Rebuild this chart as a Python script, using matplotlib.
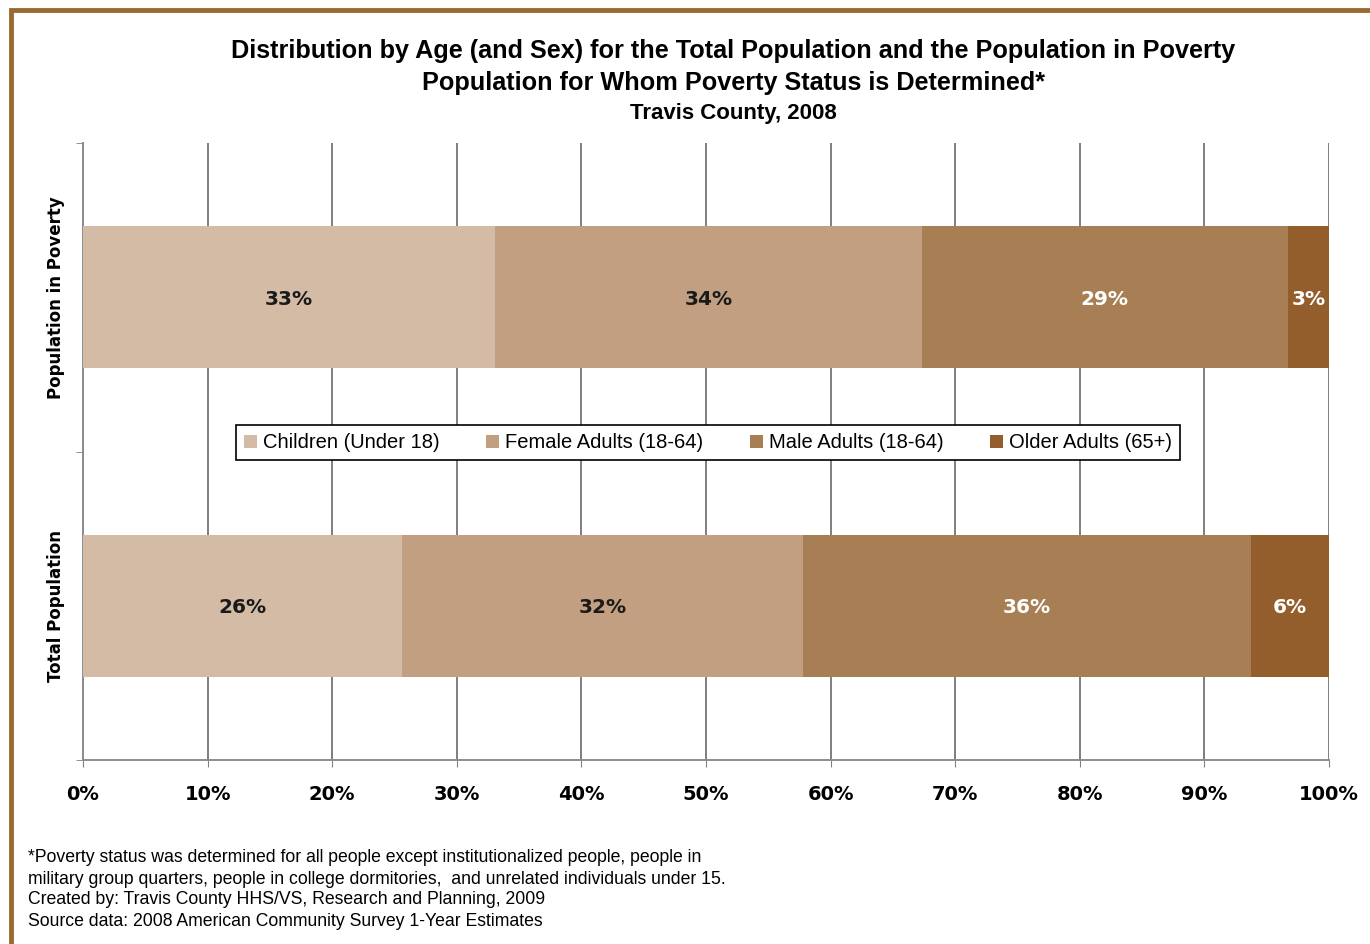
import matplotlib.pyplot as plt
import matplotlib.patches as mpatches
from matplotlib.ticker import FixedLocator, PercentFormatter

# datos (porcentajes)
grupos = ["Total Population", "Population in Poverty"]
series = ["Children (Under 18)", "Female Adults (18-64)", "Male Adults (18-64)", "Older Adults (65+)"]
children = [25.6, 33.1]
female = [32.2, 34.2]
male = [35.9, 29.4]
older = [6.3, 3.3]
colores = ["#D4BBA6", "#C19F80", "#A87F54", "#935E2B"]
color_texto = ["#1a1a1a", "#1a1a1a", "white", "white"]

narrow = ["Liberation Sans Narrow", "Liberation Sans", "DejaVu Sans"]

fig = plt.figure(figsize=(13.7, 9.44), dpi=100)
ax = fig.add_axes([83 / 1370, 1 - 760 / 944, 1246 / 1370, 617 / 944])

valores = [children, female, male, older]
izquierda = [0, 0]
for serie, vals, col, tc in zip(series, valores, colores, color_texto):
    barras = ax.barh(range(len(grupos)), vals, left=izquierda, height=0.46,
                     color=col, label=serie, zorder=3)
    for i, b in enumerate(barras):
        ax.text(izquierda[i] + vals[i] / 2, i, f"{round(vals[i])}%", ha="center", va="center_baseline",
                fontsize=14.5, fontweight="bold", color=tc, family="DejaVu Sans", zorder=4)
    izquierda = [a + v for a, v in zip(izquierda, vals)]

ax.set_xlim(0, 100)
ax.set_ylim(-0.5, 1.5)
ax.set_xticks(range(0, 101, 10))
ax.xaxis.set_major_formatter(PercentFormatter(decimals=0))
for lab in ax.get_xticklabels():
    lab.set_fontweight("bold")
    lab.set_fontsize(14)
ax.tick_params(axis="x", length=5, color="#808080", pad=13)
ax.set_yticks(range(len(grupos)))
ax.set_yticklabels(grupos, rotation=90, va="center", fontsize=12, fontweight="bold")
ax.tick_params(axis="y", length=0, pad=13)
ax.yaxis.set_minor_locator(FixedLocator([-0.5, 0.5, 1.5]))
ax.tick_params(axis="y", which="minor", length=5, color="#808080")
ax.grid(axis="x", color="#7f7f7f", linewidth=1.4, zorder=0)
for s in ["top", "right"]:
    ax.spines[s].set_visible(False)
for s in ["left", "bottom"]:
    ax.spines[s].set_color("#8c8c8c")
    ax.spines[s].set_linewidth(1.4)

leg = ax.legend(loc="center", bbox_to_anchor=(0.5016, 0.514), ncol=4, frameon=True,
                fancybox=False, edgecolor="black", framealpha=1, handlelength=0.65,
                handleheight=0.65, handletextpad=0.3, columnspacing=2.3,
                prop={"family": narrow, "size": 14.5}, borderpad=0.4, borderaxespad=0)
leg.get_frame().set_linewidth(1.2)
leg.set_zorder(5)

fig.text(733 / 1370, 1 - 51 / 944, "Distribution by Age (and Sex) for the Total Population and the Population in Poverty",
         ha="center", va="center", fontsize=18.2, fontweight="bold", family=narrow)
fig.text(733 / 1370, 1 - 83 / 944, "Population for Whom Poverty Status is Determined*",
         ha="center", va="center", fontsize=18.2, fontweight="bold", family=narrow)
fig.text(733 / 1370, 1 - 113 / 944, "Travis County, 2008",
         ha="center", va="center", fontsize=16, fontweight="bold", family=narrow)

notas = ["*Poverty status was determined for all people except institutionalized people, people in",
         "military group quarters, people in college dormitories,  and unrelated individuals under 15.",
         "Created by: Travis County HHS/VS, Research and Planning, 2009",
         "Source data: 2008 American Community Survey 1-Year Estimates"]
for y, t in zip([858, 880, 900, 921], notas):
    fig.text(28 / 1370, 1 - y / 944, t, ha="left", va="center", fontsize=12.7, family=narrow)

# marco marron
fig.patches.append(mpatches.Rectangle((11 / 1370, -0.05), 1.1, 1 - 10 / 944 + 0.05,
                                      transform=fig.transFigure, fill=False,
                                      edgecolor="#9B6A34", linewidth=3.5))

fig.savefig("out.png", dpi=100)
